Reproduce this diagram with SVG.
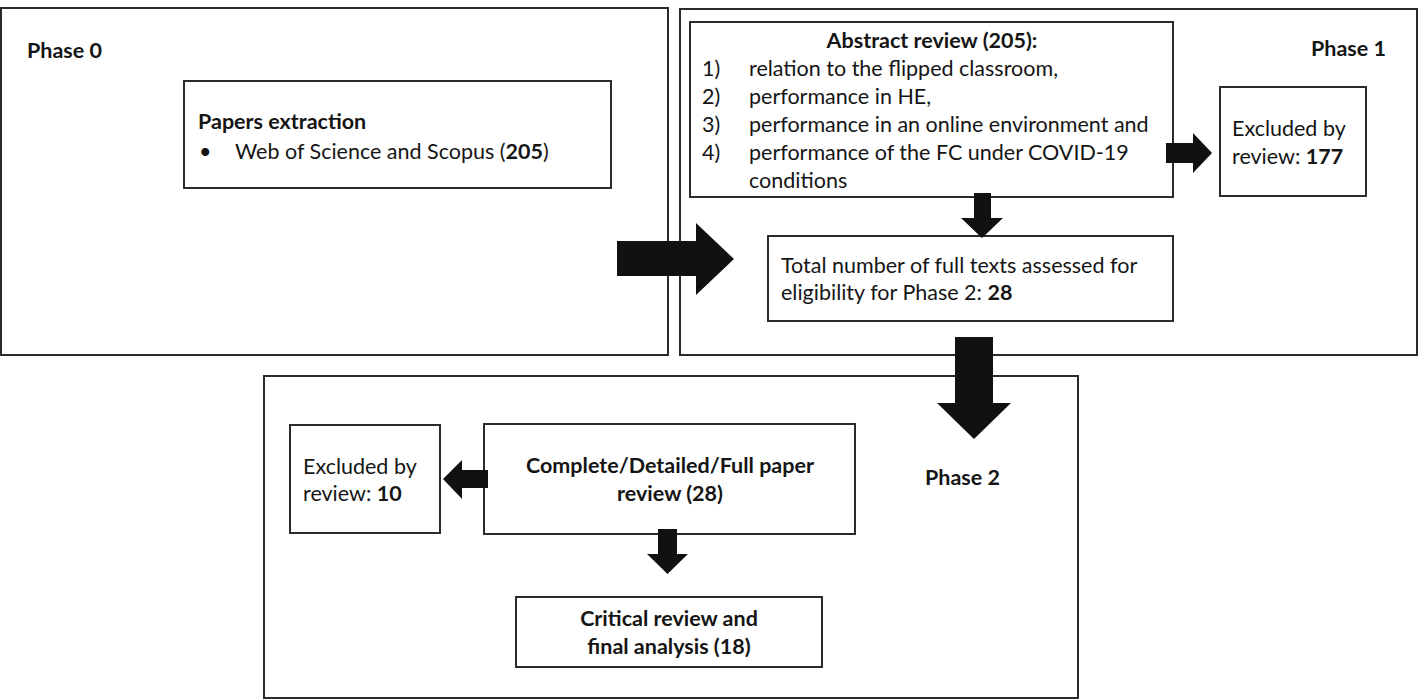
<svg xmlns="http://www.w3.org/2000/svg" width="1424" height="700" viewBox="0 0 1424 700">
<style>
.frame{fill:none;stroke:#2b2b2b;stroke-width:2}
.box{fill:#fff;stroke:#2b2b2b;stroke-width:2}
text{font-family:Lato,"Open Sans","Liberation Sans",sans-serif;font-size:21.5px;fill:#151515}
.b{font-weight:bold}
.c{text-anchor:middle}
.arrow{fill:#111;stroke:none}
</style>
<rect width="1424" height="700" fill="#fff"/>
<g id="phase0">
<rect class="frame" x="1" y="8" width="667" height="347"/>
<text class="b" x="27" y="58">Phase 0</text>
</g>
<g id="phase1">
<rect class="frame" x="680" y="9" width="737" height="346"/>
<text class="b" x="1311" y="56">Phase 1</text>
</g>
<g id="phase2">
<rect class="frame" x="264" y="376" width="814" height="322"/>
<text class="b" x="925" y="485">Phase 2</text>
</g>
<g id="papers">
<rect class="box" x="184" y="81" width="427" height="107"/>
<text class="b" x="198" y="129">Papers extraction</text>
<text x="199" y="159">•</text>
<text x="235" y="159">Web of Science and Scopus (<tspan class="b">205</tspan>)</text>
</g>
<g id="abstract">
<rect class="box" x="690" y="22" width="483" height="175"/>
<text class="b c" x="932" y="48">Abstract review (205):</text>
<text x="702" y="76">1)</text><text x="749" y="76">relation to the flipped classroom,</text>
<text x="702" y="104">2)</text><text x="749" y="104">performance in HE,</text>
<text x="702" y="132">3)</text><text x="749" y="132">performance in an online environment and</text>
<text x="702" y="160">4)</text><text x="749" y="160">performance of the FC under COVID-19</text>
<text x="749" y="188">conditions</text>
</g>
<g id="excluded1">
<rect class="box" x="1220" y="87" width="146" height="109"/>
<text x="1232" y="136">Excluded by</text>
<text x="1232" y="164">review: <tspan class="b">177</tspan></text>
</g>
<g id="total">
<rect class="box" x="768" y="236" width="405" height="85"/>
<text x="781" y="273">Total number of full texts assessed for</text>
<text x="781" y="300">eligibility for Phase 2: <tspan class="b">28</tspan></text>
</g>
<g id="complete">
<rect class="box" x="484" y="424" width="371" height="110"/>
<text class="b c" x="670" y="473">Complete/Detailed/Full paper</text>
<text class="b c" x="670" y="501">review (28)</text>
</g>
<g id="excluded2">
<rect class="box" x="290" y="425" width="150" height="108"/>
<text x="303" y="474">Excluded by</text>
<text x="303" y="501">review: <tspan class="b">10</tspan></text>
</g>
<g id="critical">
<rect class="box" x="516" y="597" width="306" height="70"/>
<text class="b c" x="669" y="626">Critical review and</text>
<text class="b c" x="669" y="654">final analysis (18)</text>
</g>
<g id="connectors">
<polygon class="arrow" points="617,241 696,241 696,223 734,259 696,295 696,276 617,276"/>
<polygon class="arrow" points="1166,143 1193,143 1193,133 1212,153 1193,173 1193,163 1166,163"/>
<polygon class="arrow" points="974,193 991,193 991,218 1003,218 982,238 961,218 974,218"/>
<polygon class="arrow" points="955,337 993,337 993,403 1011,403 974,439 937,403 955,403"/>
<polygon class="arrow" points="488,470 462,470 462,460 443,479 462,499 462,488 488,488"/>
<polygon class="arrow" points="658,529 677,529 677,554 688,554 667.5,574 647,554 658,554"/>
</g>
</svg>
